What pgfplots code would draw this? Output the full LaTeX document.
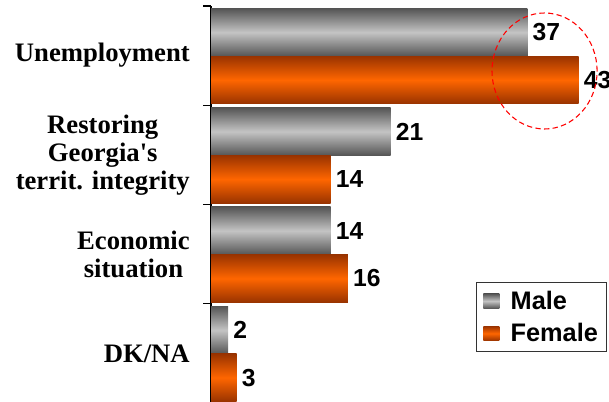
\documentclass[border=0pt]{standalone}
\usepackage{fontspec}
\setmainfont{Liberation Serif}
\newfontfamily\arialf{Liberation Sans}
\usepackage{pgfplots}
\pgfplotsset{compat=1.18}
\definecolor{gdark}{HTML}{555555}
\definecolor{glight}{HTML}{C4C4C4}
\definecolor{odark}{HTML}{993300}
\definecolor{olight}{HTML}{FF6600}
\pgfplotsset{
  malebar/.style={draw=none, top color=gdark, bottom color=gdark, middle color=glight},
  femalebar/.style={draw=none, top color=odark, bottom color=odark, middle color=olight},
}
\begin{document}
\begin{tikzpicture}
\begin{axis}[
  at={(158.25pt,-0.75pt)}, anchor=south west,
  scale only axis,
  width=298.2pt, height=297.75pt,
  xmin=0, xmax=46.5,
  ymin=-0.5, ymax=3.5,
  axis y line*=left,
  axis x line=none,
  y axis line style={black, line width=0.9pt},
  clip=false,
  xbar, bar shift=0pt, bar width=0.48,
  ytick={0,1,2,3},
  yticklabels={DK/NA, {Economic\\situation}, {Restoring\\Georgia\textquotesingle s\\territ. integrity}, Unemployment},
  major tick length=0pt,
  minor ytick={-0.5,0.5,1.5,2.5,3.5},
  minor tick length=6pt,
  tick align=outside,
  minor tick style={black, line width=0.8pt},
  yticklabel style={font=\fontsize{20}{21}\selectfont\bfseries, align=center, anchor=east, inner sep=0pt, xshift=-15.75pt},
  /pgf/number format/assume math mode=true,
  nodes near coords,
  nodes near coords align={horizontal},
  every node near coord/.append style={font=\arialf\fontsize{18.5}{20}\selectfont\bfseries, anchor=west, inner sep=0pt, xshift=3.75pt, black},
  legend style={at={(0.996,0.1285)}, anchor=south east, draw=black!80, line width=0.6pt,
    font=\arialf\fontsize{19}{21}\selectfont\bfseries, inner xsep=5pt, inner ysep=4pt,
    row sep=5pt, nodes={inner xsep=1.5pt}},
  legend cell align=left,
  legend image code/.code={\path[#1, draw=none] (0pt,-5.5pt) rectangle (12pt,5.5pt); \path (19pt,0pt);},
]
\addplot[malebar] coordinates {(37,3.235)};
\addplot[femalebar] coordinates {(43,2.755)};
\addplot[malebar, forget plot] coordinates {(21,2.235)};
\addplot[malebar, forget plot] coordinates {(14,1.235)};
\addplot[malebar, forget plot] coordinates {(2,0.235)};
\addplot[femalebar, forget plot] coordinates {(14,1.755)};
\addplot[femalebar, forget plot] coordinates {(16,0.755)};
\addplot[femalebar, forget plot] coordinates {(3,-0.245)};
\legend{Male, Female}
\end{axis}
\draw[red, dashed, dash pattern=on 4pt off 2.5pt, line width=0.8pt] (408.4pt,248.25pt) ellipse [x radius=39.4pt, y radius=43.5pt];
\pgfresetboundingbox
\path[use as bounding box] (0,0) rectangle (456.75pt,301.5pt);
\end{tikzpicture}
\end{document}
